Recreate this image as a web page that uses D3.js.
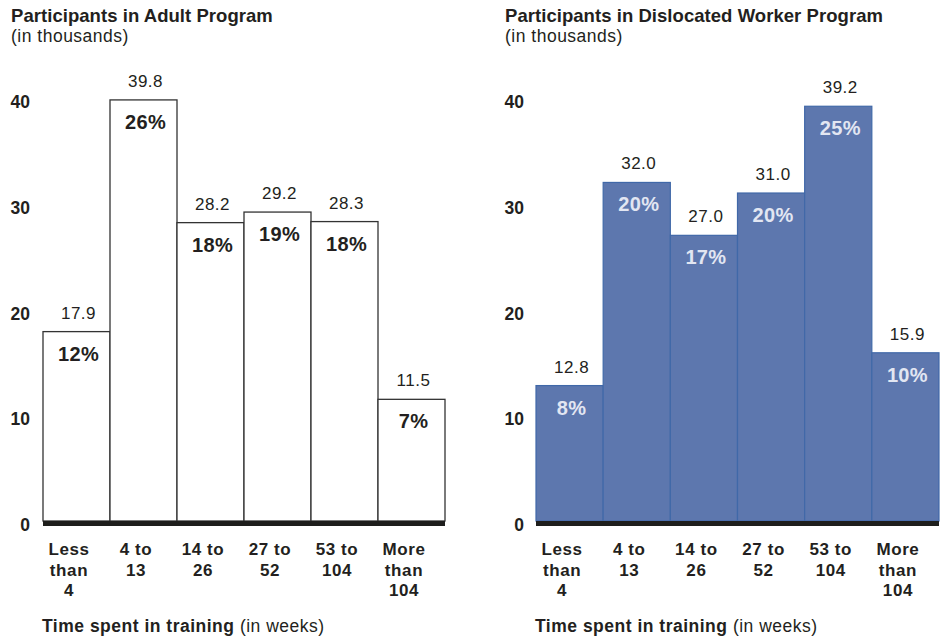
<!DOCTYPE html>
<html><head><meta charset="utf-8">
<script src="https://cdn.jsdelivr.net/npm/d3@7"></script>
<style>
body{margin:0;background:#fff;}
svg{display:block;font-family:"Liberation Sans",Arial,sans-serif;}
</style></head>
<body><svg id="c" width="949" height="639"></svg>
<script>
const categories = ["Less than 4", "4 to 13", "14 to 26", "27 to 52", "53 to 104", "More than 104"];
const categoryLines = [["Less","than","4"],["4 to","13"],["14 to","26"],["27 to","52"],["53 to","104"],["More","than","104"]];
const adultValues = [17.9, 39.8, 28.2, 29.2, 28.3, 11.5];
const adultPercents = [12, 26, 18, 19, 18, 7];
const dwValues = [12.8, 32.0, 27.0, 31.0, 39.2, 15.9];
const dwPercents = [8, 20, 17, 20, 25, 10];
const yTicks = [0, 10, 20, 30, 40];
const panelTitles = ["Participants in Adult Program", "Participants in Dislocated Worker Program"];

const svg = d3.select("#c");
const ink = "#231f20";

function panel(opts){
  const g = svg.append("g");
  const x = d3.scaleBand().domain(categories).range([opts.x0, opts.x1]).paddingInner(0).paddingOuter(0);
  const y = d3.scaleLinear().domain([0, 40]).range([521, 97.8]);

  // titles
  g.append("text").attr("x", opts.tx).attr("y", 21.5).attr("font-size", 18.5).attr("letter-spacing", 0.05).attr("font-weight", "bold").attr("fill", ink).text(opts.title);
  g.append("text").attr("x", opts.tx).attr("y", 42).attr("font-size", 17.5).attr("letter-spacing", 0.5).attr("fill", ink).text("(in thousands)");

  // y axis
  const ya = g.append("g").attr("transform", `translate(${opts.yLabelX},4)`)
    .call(d3.axisLeft(y).tickValues(yTicks).tickSize(0).tickPadding(0).tickFormat(d3.format("d")));
  ya.select(".domain").remove();
  ya.selectAll("text").attr("font-size", 17.5).attr("font-weight", "bold").attr("fill", ink).attr("font-family", "Liberation Sans, Arial, sans-serif");

  const data = categories.map((c, i) => ({c, v: opts.values[i], p: opts.percents[i]}));

  g.selectAll("rect.bar").data(data).join("rect").attr("class", "bar")
    .attr("x", d => x(d.c)).attr("width", x.bandwidth())
    .attr("y", d => y(d.v)).attr("height", d => y(0) - y(d.v))
    .attr("fill", opts.fill).attr("stroke", opts.stroke).attr("stroke-width", opts.sw);

  g.selectAll("text.val").data(data).join("text").attr("class", "val")
    .attr("x", d => x(d.c) + x.bandwidth()/2 + 2).attr("y", d => y(d.v) - 13)
    .attr("text-anchor", "middle").attr("font-size", 17).attr("letter-spacing", 0.5).attr("fill", ink)
    .text(d => d3.format(".1f")(d.v));

  g.selectAll("text.pct").data(data).join("text").attr("class", "pct")
    .attr("x", d => x(d.c) + x.bandwidth()/2 + 2).attr("y", d => y(d.v) + 29)
    .attr("text-anchor", "middle").attr("font-size", 20).attr("letter-spacing", 0.3).attr("font-weight", "bold").attr("fill", opts.pctColor)
    .text(d => d.p + "%");

  // baseline
  g.append("rect").attr("x", opts.x0).attr("y", y(0)).attr("width", opts.x1 - opts.x0).attr("height", 5).attr("fill", "#1e1e1c");

  // x axis
  const xa = g.append("g").attr("transform", `translate(-7.5,${y(0)})`)
    .call(d3.axisBottom(x).tickSize(0).tickPadding(0));
  xa.select(".domain").remove();
  xa.selectAll(".tick text").each(function(d, i){
    const t = d3.select(this);
    t.text(null).attr("y", 0).attr("dy", null).attr("font-size", 17).attr("letter-spacing", 0.6).attr("font-weight", "bold").attr("fill", ink)
      .attr("font-family", "Liberation Sans, Arial, sans-serif");
    categoryLines[i].forEach((ln, j) => {
      t.append("tspan").attr("x", 0).attr("y", 34 + j * 20.5).text(ln);
    });
  });

  const at = g.append("text").attr("x", opts.x0 - 1).attr("y", 631.5).attr("font-size", 17.5).attr("letter-spacing", 0.5).attr("fill", ink);
  at.append("tspan").attr("font-weight", "bold").text("Time spent in training");
  at.append("tspan").text(" (in weeks)");
}

panel({title: panelTitles[0], tx: 11, x0: 43, x1: 445, yLabelX: 30, values: adultValues, percents: adultPercents,
  fill: "#ffffff", stroke: "#333333", sw: 1.3, pctColor: ink});
panel({title: panelTitles[1], tx: 505, x0: 536, x1: 939, yLabelX: 524, values: dwValues, percents: dwPercents,
  fill: "#5d77ae", stroke: "#4068a8", sw: 1.2, pctColor: "#e2e6f2"});
</script></body></html>
